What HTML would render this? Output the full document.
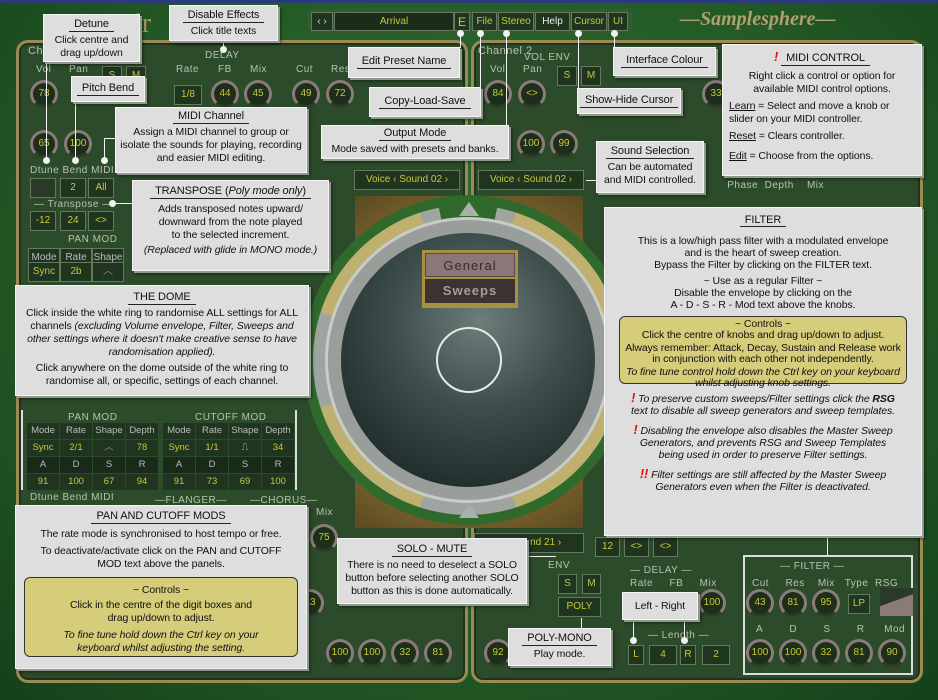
<!DOCTYPE html>
<html><head><meta charset="utf-8"><style>
*{margin:0;padding:0;box-sizing:border-box}
body{width:938px;height:700px;overflow:hidden;position:relative;font-family:"Liberation Sans",sans-serif;background:#1f5a24}
.bg{position:absolute;left:0;top:0;width:938px;height:700px;background:radial-gradient(ellipse at 50% 40%,#2f6d31 0%,#235a26 60%,#15401a 100%)}
.pan{position:absolute;border:3px solid #9c8a55;border-radius:12px;background:#2c4b2a;box-shadow:inset 0 0 0 2px #1d331c}
.a{position:absolute}
.c{position:absolute;background:#dedede;border:1px solid #f4f4f4;box-shadow:2px 2px 0 #8e9a8c,3px 3px 3px rgba(0,0,0,.5);color:#111;font-size:10.5px;line-height:13px;text-align:center;padding:3px 2px;letter-spacing:-0.1px}
.t{display:inline-block;border-bottom:1px solid #222;padding:0 5px;margin-bottom:2px;font-size:11px;white-space:nowrap}
.y{background:#d6cd7a;border:1px solid #333;border-radius:6px;padding:3px 3px}
.k{position:absolute;width:28px;height:28px;border-radius:50%;background:#1d2e1b;border:3px solid #8a7a78;border-bottom-color:#2a3d28;color:#c8c83a;font-size:10px;text-align:center;line-height:22px}
.b{position:absolute;height:20px;border:1px solid #647a5c;background:#203520;color:#c8c83a;font-size:10px;text-align:center;line-height:18px}
.l{position:absolute;color:#b8c2b0;font-size:10px;letter-spacing:.5px}
.ln{position:absolute;background:#f2f2f2}
.dot{position:absolute;width:7px;height:7px;border-radius:50%;background:#f2f2f2}
.i{font-style:italic}
.r{color:#e01010;font-weight:bold;font-style:italic;font-size:13px}
.nw{white-space:nowrap}
</style></head><body>
<div class="bg"></div>
<div class="a" style="left:0;top:0;width:938px;height:3px;background:#2a3a7a"></div>
<div class="a" style="left:120px;top:8px;font-family:'Liberation Serif',serif;font-size:28px;color:#a99a5c">pir</div>
<div class="a" style="left:680px;top:8px;font-family:'Liberation Serif',serif;font-style:italic;font-weight:bold;font-size:20px;color:#b0a070">—Samplesphere—</div>
<div class="a" style="left:307px;top:9px;width:325px;height:24px;background:#335a30;border-radius:4px"></div>
<div class="b" style="left:311px;top:12px;width:22px;height:19px;color:#ddd">‹ ›</div>
<div class="b" style="left:334px;top:12px;width:120px;height:19px;background:#1c2c1a">Arrival</div>
<div class="b" style="left:454px;top:12px;width:16px;height:19px;font-size:12px">E</div>
<div class="b" style="left:472px;top:12px;width:25px;height:19px">File</div>
<div class="b" style="left:498px;top:12px;width:36px;height:19px">Stereo</div>
<div class="b" style="left:535px;top:12px;width:35px;height:19px;color:#eee">Help</div>
<div class="b" style="left:571px;top:12px;width:36px;height:19px">Cursor</div>
<div class="b" style="left:608px;top:12px;width:20px;height:19px">UI</div>
<div class="pan" style="left:16px;top:40px;width:452px;height:643px"></div>
<div class="pan" style="left:471px;top:40px;width:452px;height:643px"></div>
<div class="l" style="left:28px;top:45px;font-size:11px">Cha</div>
<div class="l" style="left:478px;top:45px;font-size:11px">Channel 2</div>
<div class="l" style="left:524px;top:52px">VOL ENV</div>
<div class="l" style="left:205px;top:50px">DELAY</div>
<div class="l" style="left:176px;top:64px">Rate</div><div class="l" style="left:218px;top:64px">FB</div><div class="l" style="left:250px;top:64px">Mix</div>
<div class="l" style="left:296px;top:64px">Cut</div><div class="l" style="left:331px;top:64px">Res</div>
<div class="l" style="left:36px;top:64px">Vol</div><div class="l" style="left:69px;top:64px">Pan</div>
<div class="l" style="left:490px;top:64px">Vol</div><div class="l" style="left:523px;top:64px">Pan</div>
<div class="b" style="left:102px;top:66px;width:20px;height:17px">S</div><div class="b" style="left:126px;top:66px;width:20px;height:17px">M</div>
<div class="b" style="left:557px;top:66px;width:20px;height:20px">S</div><div class="b" style="left:581px;top:66px;width:20px;height:20px">M</div>
<div class="k" style="left:30px;top:80px">78</div>
<div class="b" style="left:174px;top:85px;width:28px">1/8</div>
<div class="k" style="left:211px;top:80px">44</div><div class="k" style="left:244px;top:80px">45</div>
<div class="k" style="left:292px;top:80px">49</div><div class="k" style="left:326px;top:80px">72</div>
<div class="k" style="left:484px;top:80px">84</div><div class="k" style="left:518px;top:80px">&lt;&gt;</div>
<div class="k" style="left:702px;top:80px">33</div>
<div class="k" style="left:30px;top:130px">65</div><div class="k" style="left:64px;top:130px">100</div>
<div class="k" style="left:517px;top:130px">100</div><div class="k" style="left:550px;top:130px">99</div>
<div class="l" style="left:30px;top:165px">Dtune Bend MIDI</div>
<div class="b" style="left:30px;top:178px;width:26px;background:#2a3a28"></div>
<div class="b" style="left:60px;top:178px;width:26px">2</div><div class="b" style="left:88px;top:178px;width:26px">All</div>
<div class="l" style="left:34px;top:199px">— Transpose —</div>
<div class="b" style="left:30px;top:211px;width:26px">-12</div><div class="b" style="left:60px;top:211px;width:26px">24</div><div class="b" style="left:88px;top:211px;width:26px">&lt;&gt;</div>
<div class="l" style="left:68px;top:234px">PAN MOD</div>
<div class="b" style="left:28px;top:248px;width:32px;color:#bbb">Mode</div><div class="b" style="left:60px;top:248px;width:32px;color:#bbb">Rate</div><div class="b" style="left:92px;top:248px;width:32px;color:#bbb">Shape</div>
<div class="b" style="left:28px;top:262px;width:32px">Sync</div><div class="b" style="left:60px;top:262px;width:32px">2b</div><div class="b" style="left:92px;top:262px;width:32px;color:#9a8a8a">︿</div>
<div class="b" style="left:478px;top:170px;width:106px">Voice ‹ Sound 02 ›</div>
<div class="b" style="left:354px;top:170px;width:106px">Voice ‹ Sound 02 ›</div>
<div class="l" style="left:622px;top:180px">ate&nbsp;&nbsp;&nbsp;&nbsp;&nbsp;FB&nbsp;&nbsp;&nbsp;&nbsp;&nbsp;&nbsp;Mix&nbsp;&nbsp;&nbsp;&nbsp;&nbsp;&nbsp;&nbsp;Phase&nbsp;&nbsp;Depth&nbsp;&nbsp;&nbsp;&nbsp;Mix</div>
<div class="a" style="left:21px;top:410px;width:276px;height:80px;border:2px solid #ddd;border-top:none;border-bottom:none"></div>
<div class="l" style="left:68px;top:412px">PAN MOD</div><div class="l" style="left:195px;top:412px">CUTOFF MOD</div>
<div class="a" style="left:27px;top:423px;display:grid;grid-template-columns:repeat(4,32px);grid-auto-rows:16px;gap:1px;font-size:9.5px;text-align:center;line-height:16px">
<div style="color:#bbb;background:#203520">Mode</div><div style="color:#bbb;background:#203520">Rate</div><div style="color:#bbb;background:#203520">Shape</div><div style="color:#bbb;background:#203520">Depth</div>
<div style="color:#c8c83a;background:#203520">Sync</div><div style="color:#c8c83a;background:#203520">2/1</div><div style="color:#9a8a8a;background:#203520">︿</div><div style="color:#c8c83a;background:#203520">78</div>
<div style="color:#bbb;background:#1a2a18">A</div><div style="color:#bbb;background:#1a2a18">D</div><div style="color:#bbb;background:#1a2a18">S</div><div style="color:#bbb;background:#1a2a18">R</div>
<div style="color:#c8c83a;background:#203520">91</div><div style="color:#c8c83a;background:#203520">100</div><div style="color:#c8c83a;background:#203520">67</div><div style="color:#c8c83a;background:#203520">94</div></div>
<div class="a" style="left:163px;top:423px;display:grid;grid-template-columns:repeat(4,32px);grid-auto-rows:16px;gap:1px;font-size:9.5px;text-align:center;line-height:16px">
<div style="color:#bbb;background:#203520">Mode</div><div style="color:#bbb;background:#203520">Rate</div><div style="color:#bbb;background:#203520">Shape</div><div style="color:#bbb;background:#203520">Depth</div>
<div style="color:#c8c83a;background:#203520">Sync</div><div style="color:#c8c83a;background:#203520">1/1</div><div style="color:#bbb;background:#203520">⎍</div><div style="color:#c8c83a;background:#203520">34</div>
<div style="color:#bbb;background:#1a2a18">A</div><div style="color:#bbb;background:#1a2a18">D</div><div style="color:#bbb;background:#1a2a18">S</div><div style="color:#bbb;background:#1a2a18">R</div>
<div style="color:#c8c83a;background:#203520">91</div><div style="color:#c8c83a;background:#203520">73</div><div style="color:#c8c83a;background:#203520">69</div><div style="color:#c8c83a;background:#203520">100</div></div>
<div class="l" style="left:30px;top:492px">Dtune Bend MIDI</div>
<div class="l" style="left:155px;top:495px">—FLANGER—</div><div class="l" style="left:250px;top:495px">—CHORUS—</div>
<div class="l" style="left:316px;top:507px">Mix</div>
<div class="k" style="left:310px;top:524px">75</div>
<div class="k" style="left:296px;top:589px">43</div>
<div class="k" style="left:326px;top:639px">100</div><div class="k" style="left:358px;top:639px">100</div><div class="k" style="left:391px;top:639px">32</div><div class="k" style="left:424px;top:639px">81</div>
<div class="k" style="left:484px;top:639px">92</div>
<div class="l" style="left:548px;top:560px">ENV</div>
<div class="b" style="left:558px;top:574px;width:19px">S</div><div class="b" style="left:582px;top:574px;width:19px">M</div>
<div class="b" style="left:558px;top:597px;width:43px">POLY</div>
<div class="b" style="left:474px;top:533px;width:110px;color:#c8c83a">&nbsp;&nbsp;&nbsp;&nbsp;&nbsp;&nbsp;&nbsp;&nbsp;&nbsp;&nbsp;&nbsp;&nbsp;nd 21 ›</div>
<div class="b" style="left:595px;top:537px;width:25px">12</div><div class="b" style="left:624px;top:537px;width:25px">&lt;&gt;</div><div class="b" style="left:653px;top:537px;width:25px">&lt;&gt;</div>
<div class="l" style="left:630px;top:565px">— DELAY —</div>
<div class="l" style="left:630px;top:578px">Rate&nbsp;&nbsp;&nbsp;&nbsp;&nbsp;FB&nbsp;&nbsp;&nbsp;&nbsp;&nbsp;Mix</div>
<div class="k" style="left:698px;top:589px">100</div>
<div class="l" style="left:648px;top:630px">— Length —</div>
<div class="b" style="left:628px;top:645px;width:16px">L</div><div class="b" style="left:649px;top:645px;width:28px">4</div><div class="b" style="left:680px;top:645px;width:16px">R</div><div class="b" style="left:702px;top:645px;width:28px">2</div>
<div class="a" style="left:743px;top:555px;width:170px;height:120px;border:2px solid #ddd"></div>
<div class="l" style="left:780px;top:561px">— FILTER —</div>
<div class="l" style="left:752px;top:578px">Cut&nbsp;&nbsp;&nbsp;&nbsp;&nbsp;Res&nbsp;&nbsp;&nbsp;&nbsp;Mix&nbsp;&nbsp;&nbsp;Type&nbsp;&nbsp;RSG</div>
<div class="k" style="left:746px;top:589px">43</div><div class="k" style="left:779px;top:589px">81</div><div class="k" style="left:812px;top:589px">95</div>
<div class="b" style="left:848px;top:594px;width:22px">LP</div>
<div class="a" style="left:880px;top:588px;width:33px;height:28px;background:linear-gradient(160deg,#2a3a28 45%,#8a7a78 46%)"></div>
<div class="l" style="left:756px;top:624px">A&nbsp;&nbsp;&nbsp;&nbsp;&nbsp;&nbsp;&nbsp;&nbsp;D&nbsp;&nbsp;&nbsp;&nbsp;&nbsp;&nbsp;&nbsp;&nbsp;S&nbsp;&nbsp;&nbsp;&nbsp;&nbsp;&nbsp;&nbsp;&nbsp;R&nbsp;&nbsp;&nbsp;&nbsp;&nbsp;&nbsp;Mod</div>
<div class="k" style="left:746px;top:639px">100</div><div class="k" style="left:779px;top:639px">100</div><div class="k" style="left:812px;top:639px">32</div><div class="k" style="left:845px;top:639px">81</div><div class="k" style="left:878px;top:639px">90</div>
<div class="a" style="left:355px;top:196px;width:228px;height:332px;background:radial-gradient(circle,#6a5a2a,#8a6d30 60%,#5a4a22);"></div>
<div class="a" style="left:303px;top:195px;width:330px;height:330px;border-radius:50%;background:#2f6a2c"></div>
<div class="a" style="left:313px;top:205px;width:310px;height:310px;border-radius:50%;background:conic-gradient(#2f6a2c 0 3%,#a0a4a0 3% 5%,#c0b070 5% 20%,#a0a4a0 20% 30%,#c0b070 30% 45%,#a0a4a0 45% 55%,#c0b070 55% 70%,#a0a4a0 70% 80%,#c0b070 80% 95%,#a0a4a0 95% 97%,#2f6a2c 97%)"></div>
<div class="a" style="left:325px;top:217px;width:286px;height:286px;border-radius:50%;background:#9a9e9a;border:3px solid #c8ccc8"></div>
<div class="a" style="left:341px;top:233px;width:254px;height:254px;border-radius:50%;background:radial-gradient(circle at 55% 35%,#6d7d7a 0%,#3d4e4c 40%,#1f2c2b 80%,#141e1d 100%)"></div>
<div class="a" style="left:436px;top:327px;width:66px;height:66px;border-radius:50%;border:2px solid #e8e8e8"></div>
<div class="a" style="left:459px;top:202px;width:0;height:0;border-left:10px solid transparent;border-right:10px solid transparent;border-bottom:14px solid #aab0aa"></div>
<div class="a" style="left:459px;top:504px;width:0;height:0;border-left:10px solid transparent;border-right:10px solid transparent;border-bottom:14px solid #aab0aa"></div>
<div class="a" style="left:422px;top:250px;width:96px;height:58px;background:#a89040;padding:3px">
<div style="background:#8a7878;height:24px;color:#3a2a2a;font-size:13px;text-align:center;line-height:24px;letter-spacing:1px;border:1px solid #5a4a4a">General</div>
<div style="background:#3d3232;height:24px;margin-top:2px;color:#a89a9a;font-size:13px;text-align:center;line-height:24px;letter-spacing:1px;font-weight:bold">Sweeps</div></div>
<div class="ln" style="left:46px;top:60px;width:1px;height:100px"></div><div class="dot" style="left:43px;top:157px"></div>
<div class="ln" style="left:75px;top:100px;width:1px;height:60px"></div><div class="dot" style="left:72px;top:157px"></div>
<div class="ln" style="left:104px;top:138px;width:1px;height:22px"></div><div class="ln" style="left:104px;top:138px;width:12px;height:1px"></div><div class="dot" style="left:101px;top:157px"></div>
<div class="ln" style="left:112px;top:203px;width:22px;height:1px"></div><div class="dot" style="left:109px;top:200px"></div>
<div class="ln" style="left:223px;top:40px;width:1px;height:10px"></div><div class="dot" style="left:220px;top:46px"></div>
<div class="ln" style="left:460px;top:33px;width:1px;height:15px"></div><div class="dot" style="left:457px;top:30px"></div>
<div class="ln" style="left:480px;top:33px;width:1px;height:60px"></div><div class="dot" style="left:477px;top:30px"></div>
<div class="ln" style="left:506px;top:33px;width:1px;height:92px"></div><div class="dot" style="left:503px;top:30px"></div>
<div class="ln" style="left:578px;top:33px;width:1px;height:56px"></div><div class="dot" style="left:575px;top:30px"></div>
<div class="ln" style="left:614px;top:33px;width:1px;height:14px"></div><div class="dot" style="left:611px;top:30px"></div>
<div class="ln" style="left:586px;top:180px;width:10px;height:1px"></div>
<div class="ln" style="left:633px;top:618px;width:1px;height:25px"></div><div class="dot" style="left:630px;top:637px"></div>
<div class="ln" style="left:684px;top:618px;width:1px;height:25px"></div><div class="dot" style="left:681px;top:637px"></div>
<div class="ln" style="left:581px;top:618px;width:1px;height:12px"></div>
<div class="ln" style="left:526px;top:556px;width:30px;height:1px"></div>
<div class="ln" style="left:827px;top:535px;width:1px;height:20px"></div>
<div class="c" style="left:43px;top:14px;width:97px;height:48px"><span class="t">Detune</span><br>Click centre and drag up/down</div>
<div class="c" style="left:169px;top:5px;width:109px;height:36px"><span class="t">Disable Effects</span><br>Click title texts</div>
<div class="c" style="left:71px;top:76px;width:74px;height:26px;padding-top:5px"><span class="t">Pitch Bend</span></div>
<div class="c" style="left:115px;top:107px;width:192px;height:66px;padding-top:2px"><span class="t">MIDI Channel</span><br>Assign a MIDI channel to group or isolate the sounds for playing, recording and easier MIDI editing.</div>
<div class="c" style="left:132px;top:180px;width:197px;height:91px;padding-top:4px"><span class="t">TRANSPOSE (<i>Poly mode only</i>)</span><div style="margin-top:2px">Adds transposed notes upward/<br>downward from the note played<br>to the selected increment.</div><div class="i nw" style="margin-top:2px">(Replaced with glide in MONO mode.)</div></div>
<div class="c" style="left:15px;top:285px;width:294px;height:111px;padding-top:5px"><span class="t">THE DOME</span><br>Click inside the white ring to randomise ALL settings for ALL channels <i>(excluding Volume envelope, Filter, Sweeps and other settings where it doesn't make creative sense to have randomisation applied).</i><div style="margin-top:3px">Click anywhere on the dome outside of the white ring to randomise all, or specific, settings of each channel.</div></div>
<div class="c" style="left:348px;top:47px;width:112px;height:31px;padding-top:7px"><span class="t">Edit Preset Name</span></div>
<div class="c" style="left:369px;top:87px;width:112px;height:30px;padding-top:7px"><span class="t">Copy-Load-Save</span></div>
<div class="c" style="left:321px;top:125px;width:188px;height:34px;padding-top:1px"><span class="t">Output Mode</span><br><span class="nw">Mode saved with presets and banks.</span></div>
<div class="c" style="left:613px;top:47px;width:103px;height:29px;padding-top:6px"><span class="t">Interface Colour</span></div>
<div class="c" style="left:577px;top:88px;width:104px;height:26px;padding-top:5px"><span class="t">Show-Hide Cursor</span></div>
<div class="c" style="left:596px;top:141px;width:108px;height:52px"><span class="t">Sound Selection</span><br><span class="nw">Can be automated</span><br><span class="nw">and MIDI controlled.</span></div>
<div class="c" style="left:722px;top:44px;width:200px;height:132px;padding:5px 6px"><span class="r">!</span> <span class="t">MIDI CONTROL</span><div style="margin-top:2px">Right click a control or option for available MIDI control options.</div><div style="text-align:left;margin-top:4px"><u>Learn</u> = Select and move a knob or slider on your MIDI controller.</div><div style="text-align:left;margin-top:4px"><u>Reset</u> = Clears controller.</div><div style="text-align:left;margin-top:7px"><u>Edit</u> = Choose from the options.</div></div>
<div class="c" style="left:604px;top:207px;width:318px;height:329px;padding:6px 4px;line-height:12px"><span class="t">FILTER</span><div style="margin-top:6px">This is a low/high pass filter with a modulated envelope<br>and is the heart of sweep creation.<br>Bypass the Filter by clicking on the FILTER text.</div><div style="margin-top:4px">~ Use as a regular Filter ~<br>Disable the envelope by clicking on the<br>A - D - S - R - Mod text above the knobs.</div>
<div class="y" style="margin:5px 10px 0 10px;height:68px;line-height:11px;padding:2px 3px">~ Controls ~<br>Click the centre of knobs and drag up/down to adjust.<div style="margin-top:2px">Always remember: Attack, Decay, Sustain and Release work in conjunction with each other not independently.</div><div class="i" style="margin-top:2px">To fine tune control hold down the Ctrl key on your keyboard whilst adjusting knob settings.</div></div>
<div class="i" style="margin-top:8px"><span class="r">!</span> To preserve custom sweeps/Filter settings click the <b>RSG</b><br>text to disable all sweep generators and sweep templates.</div>
<div class="i" style="margin-top:7px"><span class="r">!</span> Disabling the envelope also disables the Master Sweep<br>Generators, and prevents RSG and Sweep Templates<br>being used in order to preserve Filter settings.</div>
<div class="i" style="margin-top:7px"><span class="r">!!</span> Filter settings are still affected by the Master Sweep<br>Generators even when the Filter is deactivated.</div></div>
<div class="c" style="left:15px;top:505px;width:292px;height:164px;padding-top:4px"><span class="t">PAN AND CUTOFF MODS</span><div style="margin-top:2px">The rate mode is synchronised to host tempo or free.</div><div style="margin-top:4px">To deactivate/activate click on the PAN and CUTOFF<br>MOD text above the panels.</div>
<div class="y" style="margin:6px 6px 0 6px;height:80px;padding-top:6px">~ Controls ~<div style="margin-top:2px">Click in the centre of the digit boxes and<br>drag up/down to adjust.</div><div class="i" style="margin-top:4px">To fine tune hold down the Ctrl key on your<br>keyboard whilst adjusting the setting.</div></div></div>
<div class="c" style="left:337px;top:538px;width:190px;height:66px;padding-top:4px"><span class="t">SOLO - MUTE</span><br><span class="nw">There is no need to deselect a SOLO</span><br><span class="nw">button before selecting another SOLO</span><br><span class="nw">button as this is done automatically.</span></div>
<div class="c" style="left:622px;top:592px;width:76px;height:28px;padding-top:7px">Left - Right</div>
<div class="c" style="left:508px;top:628px;width:103px;height:38px;padding-top:3px"><span class="t">POLY-MONO</span><br>Play mode.</div>
</body></html>
